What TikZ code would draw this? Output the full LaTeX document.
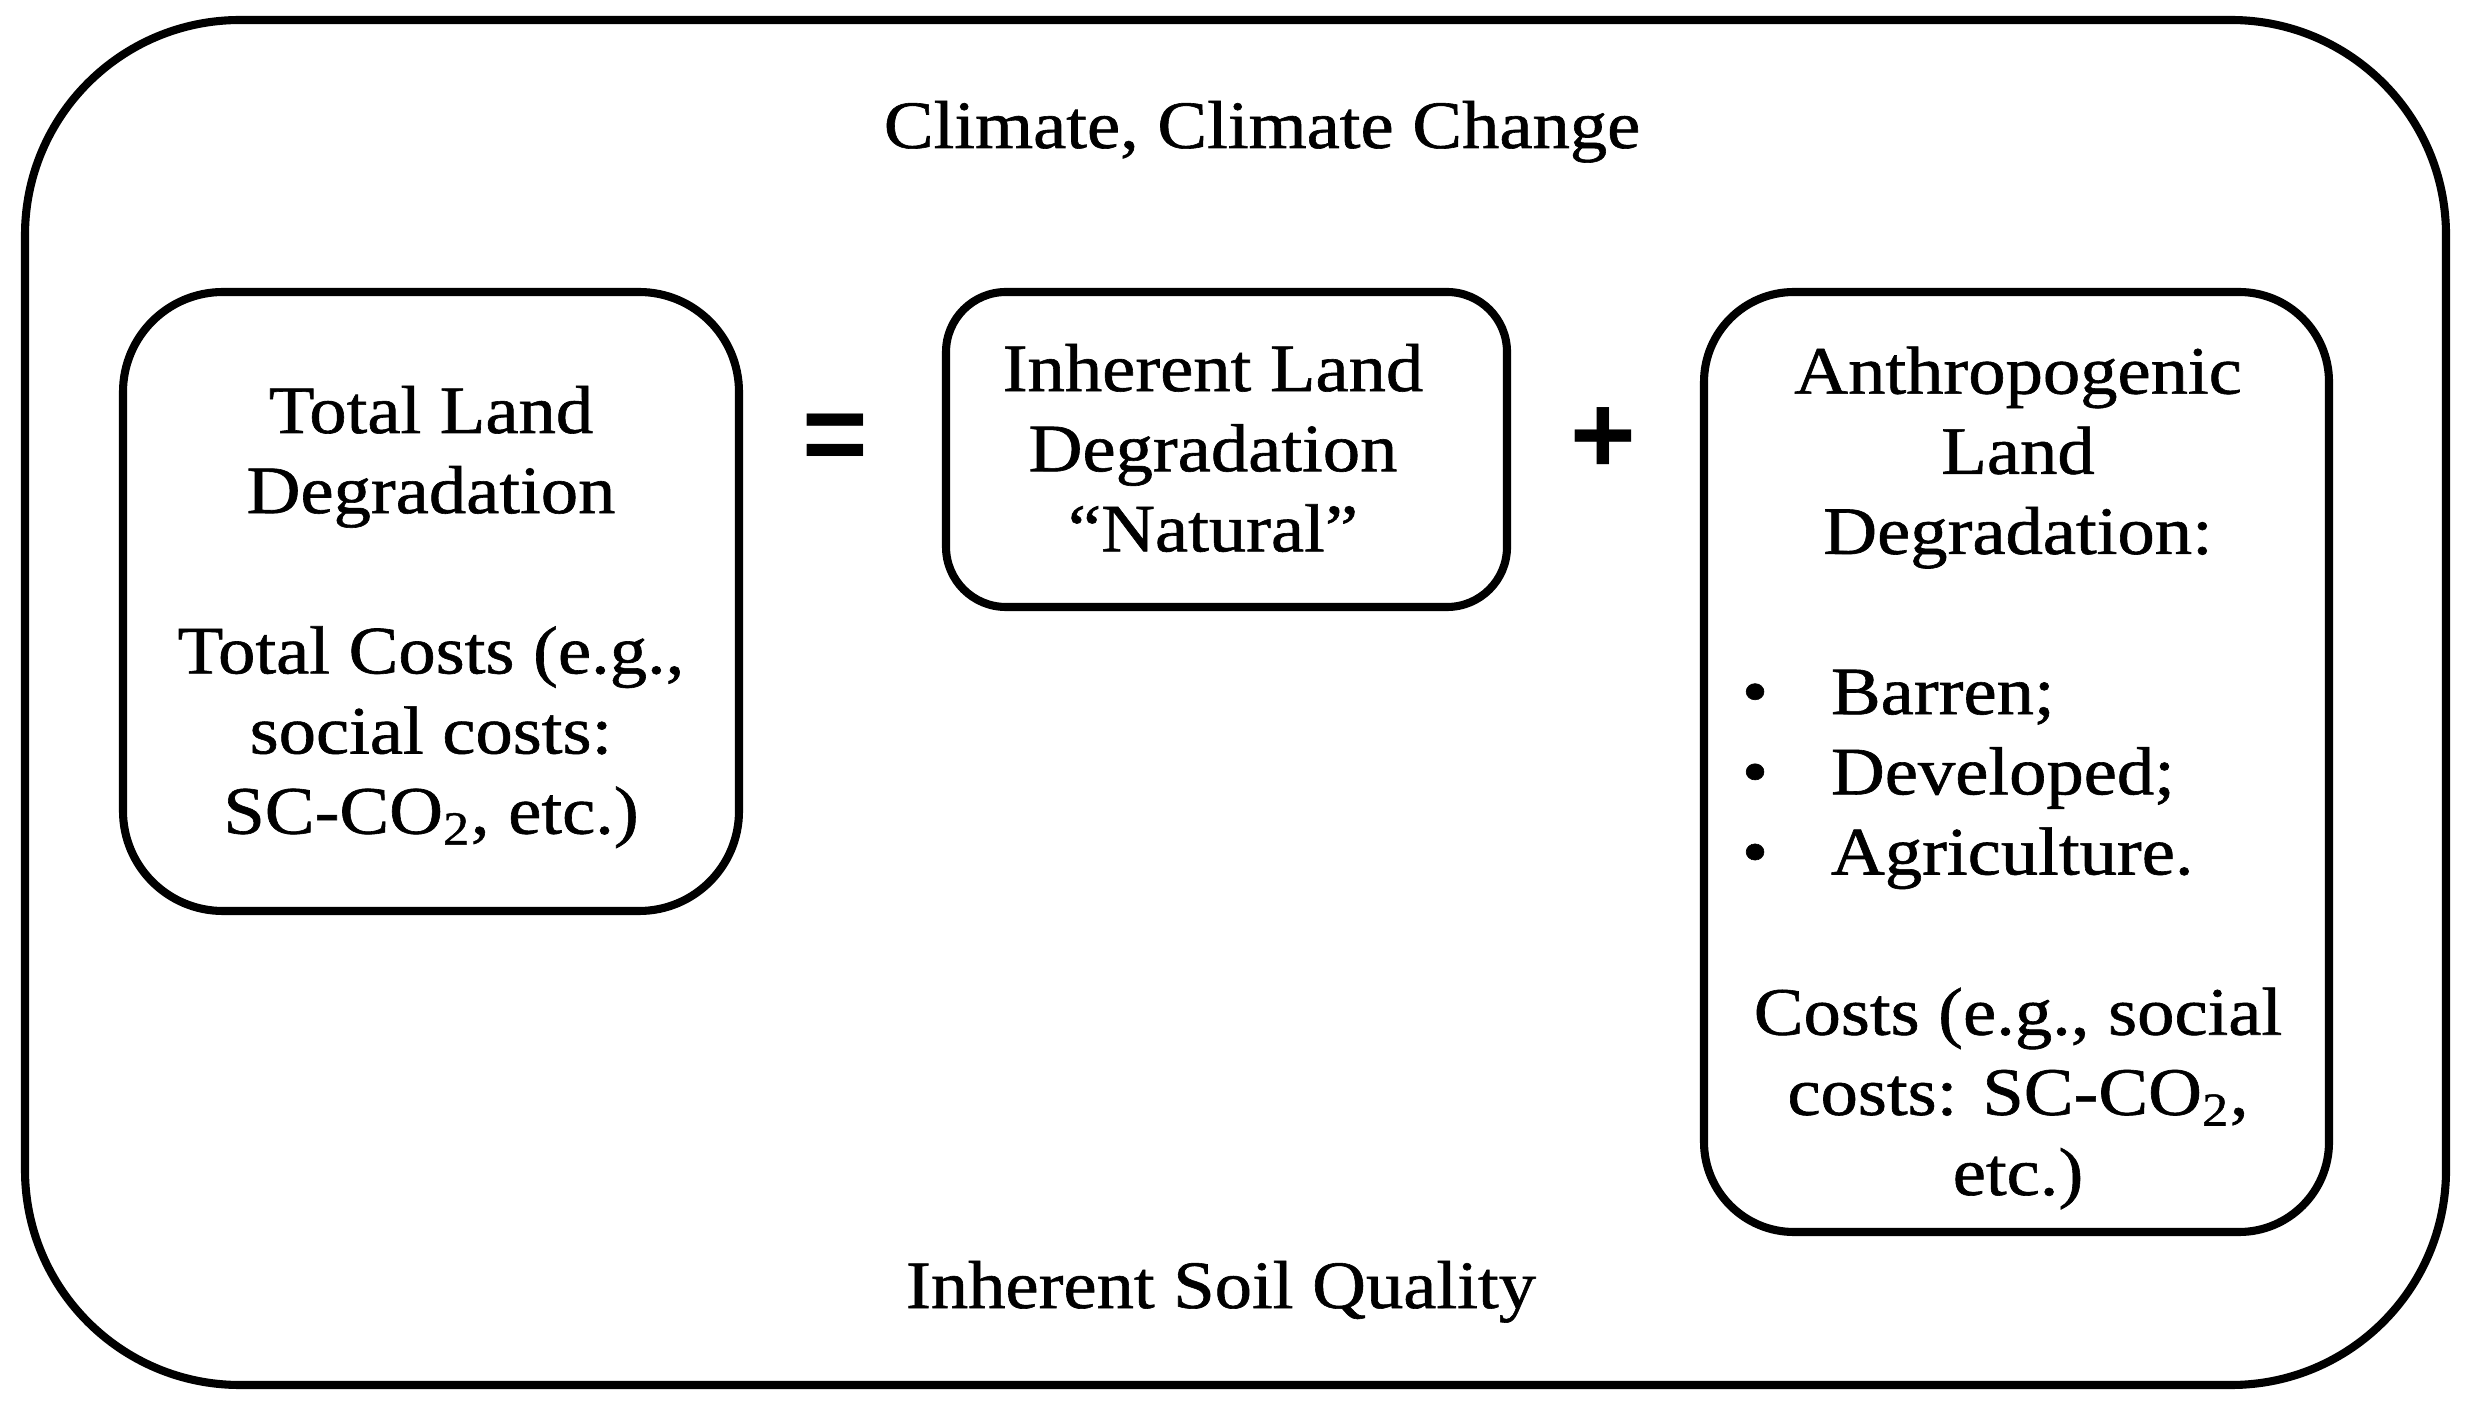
\documentclass[tikz,border=0pt]{standalone}
\usepackage{fontspec}
\setmainfont[FakeStretch=1.1,FakeBold=0.9]{Liberation Serif}
\newfontfamily\opsymfont{Liberation Sans}
\begin{document}
\begin{tikzpicture}[
  outerbox/.style={draw, line width=2.3pt, rounded corners=2.15cm, inner sep=0pt},
  innerbox/.style={draw, line width=2.3pt, inner sep=0pt},
  txt/.style={font=\fontsize{19.3}{22.8}\selectfont, align=center, inner sep=0pt},
  opsym/.style={font=\opsymfont\bfseries\fontsize{32}{36}\selectfont, inner sep=0pt}
]
\useasboundingbox (0,0) rectangle (24.71,14.11);
\node[outerbox, minimum width=24.21cm, minimum height=13.65cm] (outer) at (12.355,7.085) {};

\node[innerbox, rounded corners=1cm, minimum width=6.16cm, minimum height=6.19cm] (lbox) at (4.31,8.095) {};
\node[innerbox, rounded corners=0.6cm, minimum width=5.61cm, minimum height=3.15cm] (mbox) at (12.265,9.615) {};
\node[innerbox, rounded corners=0.9cm, minimum width=6.25cm, minimum height=9.40cm] (rbox) at (20.165,6.49) {};

\node[txt, anchor=base] (top) at (12.62,12.63) {Climate, Climate Change};
\node[txt, anchor=base] (bottom) at (12.21,1.03) {Inherent Soil Quality};

\node[txt] (ltext) at (4.31,7.94) {Total Land\\Degradation\\[22.8pt]Total Costs (e.g.,\\social costs:\\SC-CO\textsubscript{2}, etc.)};
\node[txt] (mtext) at (12.13,9.63) {Inherent Land\\Degradation\\``Natural''};
\node[txt] (rtext) at (20.18,6.33) {Anthropogenic\\Land\\Degradation:\\[22.8pt]
  \makebox[5.52cm][l]{\makebox[0.89cm][l]{\textbullet}Barren;}\\
  \makebox[5.52cm][l]{\makebox[0.89cm][l]{\textbullet}Developed;}\\
  \makebox[5.52cm][l]{\makebox[0.89cm][l]{\textbullet}Agriculture.}\\[22.8pt]
  Costs (e.g., social\\costs: SC-CO\textsubscript{2},\\etc.)};

\node[opsym] (eq) at (8.35,9.68) {=};
\node[opsym] (plus) at (16.03,9.70) {+};
\end{tikzpicture}
\end{document}
